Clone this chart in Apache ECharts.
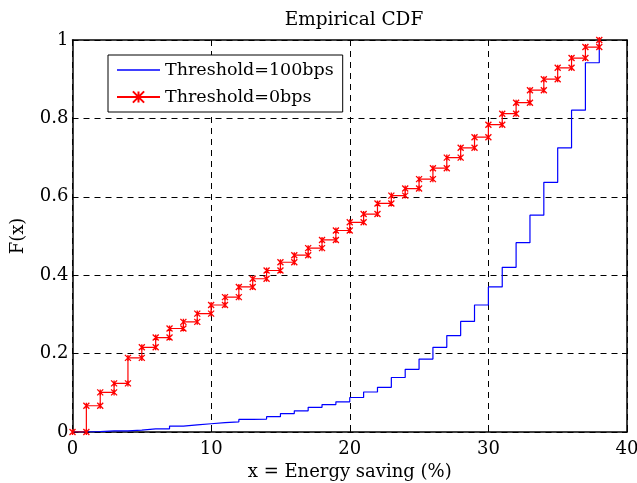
<!DOCTYPE html>
<html><head><meta charset="utf-8">
<script src="https://cdn.jsdelivr.net/npm/echarts@6/dist/echarts.min.js"></script>
<style>html,body{margin:0;padding:0;background:#fff}#c{width:637px;height:483px}</style>
</head><body><div id="c"></div>
<script>
var xValues = [0,1,2,3,4,5,6,7,8,9,10,11,12,13,14,15,16,17,18,19,20,21,22,23,24,25,26,27,28,29,30,31,32,33,34,35,36,37,38];
var threshold100 = [0,0.001,0.003,0.003,0.005,0.008,0.008,0.015,0.018,0.021,0.024,0.026,0.032,0.033,0.039,0.047,0.054,0.063,0.070,0.077,0.088,0.102,0.114,0.139,0.160,0.186,0.216,0.246,0.282,0.324,0.370,0.420,0.483,0.553,0.637,0.725,0.821,0.942,1.0];
var threshold0 = [0,0.067,0.101,0.124,0.189,0.216,0.241,0.264,0.281,0.302,0.324,0.344,0.370,0.391,0.412,0.433,0.451,0.469,0.490,0.514,0.535,0.556,0.583,0.603,0.621,0.645,0.673,0.700,0.725,0.752,0.784,0.812,0.840,0.872,0.900,0.929,0.954,0.982,1.0];
var xTicks = [0,10,20,30,40];
var yTicks = [0,0.2,0.4,0.6,0.8,1];
var seriesNames = ['Threshold=100bps','Threshold=0bps'];

var blueData = xValues.map(function(x,i){return [x, threshold100[i]];});
var redData = [[xValues[0], threshold0[0]]];
for (var i = 1; i < xValues.length; i++) {
  redData.push([xValues[i], threshold0[i-1]]);
  redData.push([xValues[i], threshold0[i]]);
}
var FONT = 'DejaVu Serif';
var star = 'path://M0,0L10,10M10,0L0,10M5,0L5,10';
var chart = echarts.init(document.getElementById('c'), null, {renderer:'canvas'});
var dash = {color:'#000', type:[6,5], width:1};
chart.setOption({
  animation:false,
  title:{text:'Empirical CDF', left:349, textAlign:'center', top:6, textStyle:{fontFamily:FONT, fontSize:18.5, fontWeight:'normal', color:'#000'}},
  grid:{left:72.5, right:10, top:40, bottom:51, outerBoundsMode:'none', containLabel:false},
  legend:{
    orient:'vertical', left:108, top:55,
    backgroundColor:'#fff', borderColor:'#000', borderWidth:1,
    padding:[5,9,5,8], itemGap:7, itemWidth:43, itemHeight:14,
    textStyle:{fontFamily:FONT, fontSize:17.5, lineHeight:20, color:'#000'},
    data:[
      {name:seriesNames[0], icon:'path://M0,0L100,0L100,3L0,3Z'},
      {name:seriesNames[1]}
    ]
  },
  xAxis:[{
    type:'value', min:0, max:40, interval:10,
    name:'x = Energy saving (%)', nameLocation:'middle', nameGap:26,
    nameTextStyle:{fontFamily:FONT, fontSize:18, color:'#000'},
    axisLine:{show:true, onZero:false, lineStyle:{color:'#000', width:1.5}},
    axisTick:{show:true, inside:true, length:5, lineStyle:{color:'#000'}},
    axisLabel:{fontFamily:FONT, fontSize:18, color:'#000', margin:8},
    splitLine:{show:true, lineStyle:dash}
  },{
    type:'value', min:0, max:40, interval:10, position:'top',
    axisLine:{show:true, onZero:false, lineStyle:{color:'#000', width:1.5}},
    axisTick:{show:true, inside:true, length:5, lineStyle:{color:'#000'}},
    axisLabel:{show:false}, splitLine:{show:false}
  }],
  yAxis:[{
    type:'value', min:0, max:1, interval:0.2,
    name:'F(x)', nameLocation:'middle', nameGap:45,
    nameTextStyle:{fontFamily:FONT, fontSize:18, color:'#000'},
    axisLine:{show:true, onZero:false, lineStyle:{color:'#000', width:1.5}},
    axisTick:{show:true, inside:true, length:5, lineStyle:{color:'#000'}},
    axisLabel:{fontFamily:FONT, fontSize:18, color:'#000', margin:4, formatter:function(v){return String(Math.round(v*10)/10);}},
    splitLine:{show:true, lineStyle:dash}
  },{
    type:'value', min:0, max:1, interval:0.2, position:'right',
    axisLine:{show:true, onZero:false, lineStyle:{color:'#000', width:1.5}},
    axisTick:{show:true, inside:true, length:5, lineStyle:{color:'#000'}},
    axisLabel:{show:false}, splitLine:{show:false}
  }],
  series:[{
    name:seriesNames[0], type:'line', step:'end', data:blueData,
    showSymbol:false, symbol:'none',
    lineStyle:{color:'#0000ff', width:1.2},
    itemStyle:{color:'#0000ff'}
  },{
    name:seriesNames[1], type:'line', data:redData,
    symbol:star, symbolSize:6, showAllSymbol:true,
    lineStyle:{color:'#ff0000', width:1.2},
    itemStyle:{color:'#ff0000', borderColor:'#ff0000', borderWidth:1.3}
  }]
});
</script></body></html>
